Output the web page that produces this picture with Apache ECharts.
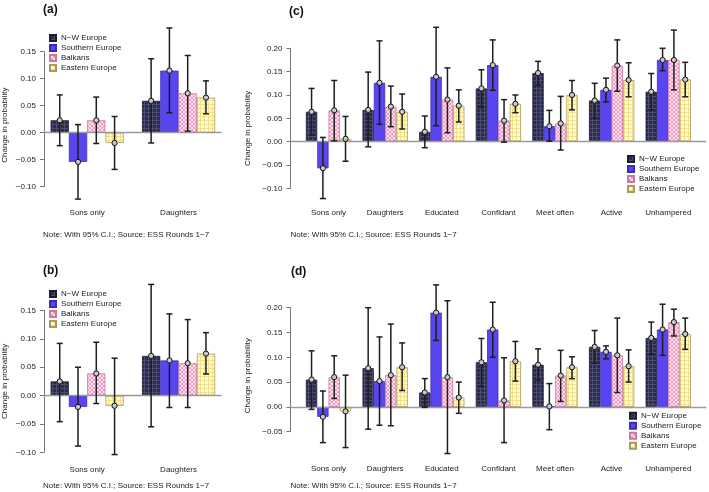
<!DOCTYPE html>
<html>
<head>
<meta charset="utf-8">
<script src="https://cdn.jsdelivr.net/npm/echarts@6/dist/echarts.min.js"></script>
<style>
  html, body { margin: 0; padding: 0; background: #fff; }
  #chart { width: 709px; height: 492px; }
</style>
</head>
<body>
<div id="chart"></div>
<script>
const regions = ['N\u2212W Europe', 'Southern Europe', 'Balkans', 'Eastern Europe'];
const catsShort = ['Sons only', 'Daughters'];
const catsLong = ['Sons only', 'Daughters', 'Educated', 'Confidant', 'Meet often', 'Active', 'Unhampered'];
const note = 'Note: With 95% C.I.; Source: ESS Rounds 1\u22127';

// rows: N-W, Southern, Balkans, Eastern
const aEst  = [[0.023, 0.059], [-0.054, 0.115], [0.023, 0.073], [-0.019, 0.065]];
const aLow  = [[-0.024, -0.019], [-0.123, 0.037], [-0.020, 0.003], [-0.068, 0.035]];
const aHigh = [[0.070, 0.137], [0.015, 0.194], [0.066, 0.143], [0.030, 0.096]];

const bEst  = [[0.025, 0.070], [-0.020, 0.062], [0.039, 0.057], [-0.018, 0.074]];
const bLow  = [[-0.046, -0.055], [-0.089, -0.021], [-0.014, -0.021], [-0.104, 0.038]];
const bHigh = [[0.092, 0.196], [0.050, 0.144], [0.094, 0.134], [0.066, 0.111]];

const cEst = [
  [0.064, 0.068, 0.021, 0.114, 0.147, 0.088, 0.107],
  [-0.057, 0.126, 0.139, 0.164, 0.033, 0.111, 0.175],
  [0.067, 0.075, 0.090, 0.045, 0.039, 0.163, 0.175],
  [0.006, 0.064, 0.077, 0.081, 0.100, 0.132, 0.133]
];
const cLow = [
  [0.014, -0.011, -0.013, 0.073, 0.121, 0.050, 0.068],
  [-0.122, 0.037, 0.034, 0.110, 0.001, 0.085, 0.152],
  [0.002, 0.032, 0.019, -0.001, -0.018, 0.108, 0.111],
  [-0.042, 0.027, 0.042, 0.062, 0.068, 0.096, 0.096]
];
const cHigh = [
  [0.114, 0.149, 0.055, 0.154, 0.172, 0.125, 0.146],
  [0.009, 0.216, 0.245, 0.218, 0.067, 0.136, 0.200],
  [0.131, 0.119, 0.158, 0.090, 0.097, 0.218, 0.239],
  [0.054, 0.102, 0.111, 0.100, 0.131, 0.169, 0.170]
];

const dEst = [
  [0.055, 0.078, 0.029, 0.090, 0.085, 0.121, 0.139],
  [-0.020, 0.052, 0.190, 0.156, 0.001, 0.111, 0.156],
  [0.060, 0.064, 0.060, 0.013, 0.063, 0.104, 0.171],
  [-0.009, 0.080, 0.019, 0.092, 0.080, 0.082, 0.147]
];
const dLow = [
  [-0.005, -0.045, -0.001, 0.041, 0.054, 0.088, 0.106],
  [-0.072, -0.037, 0.134, 0.100, -0.046, 0.097, 0.104],
  [0.017, -0.038, -0.094, -0.072, 0.011, 0.029, 0.143],
  [-0.082, 0.033, -0.013, 0.052, 0.057, 0.050, 0.116]
];
const dHigh = [
  [0.113, 0.200, 0.057, 0.138, 0.117, 0.154, 0.171],
  [0.032, 0.141, 0.246, 0.211, 0.047, 0.123, 0.207],
  [0.103, 0.167, 0.214, 0.099, 0.114, 0.179, 0.197],
  [0.064, 0.129, 0.050, 0.132, 0.101, 0.115, 0.179]
];

const FONT = '"Liberation Sans", Arial, Helvetica, sans-serif';

function pattern(bg, fg, kind) {
  const c = document.createElement('canvas');
  c.width = c.height = 4;
  const g = c.getContext('2d');
  g.fillStyle = bg;
  g.fillRect(0, 0, 4, 4);
  g.fillStyle = fg;
  if (kind === 'grid') {
    g.fillRect(0, 0, 4, 1);
    g.fillRect(0, 0, 1, 4);
  } else if (kind === 'cross') {
    for (let i = 0; i < 4; i++) {
      g.fillRect(i, i, 1, 1);
      g.fillRect(3 - i, i, 1, 1);
    }
  }
  return { image: c, repeat: 'repeat' };
}

const fills = [
  pattern('#2b2b4b', '#4d4d72', 'grid'),
  '#5a46f0',
  pattern('#f39ac6', '#fde2ef', 'cross'),
  pattern('#fffbd6', '#f1df8c', 'grid')
];
const borders = ['#1c1c33', '#3b2cc0', '#c8789f', '#a89a60'];

const panels = [
  { id: '(a)', cats: catsShort, est: aEst, low: aLow, high: aHigh, min: -0.10, max: 0.15,
    grid: { left: 43.3, top: 51.7, width: 178.4, height: 135 }, title: [43, 4], note: [43, 231],
    labelMargin: 22, nameShift: 12, legend: { left: 49, top: 33 } },
  { id: '(b)', cats: catsShort, est: bEst, low: bLow, high: bHigh, min: -0.10, max: 0.15,
    grid: { left: 43.3, top: 310.5, width: 178.4, height: 141.8 }, title: [43, 265], note: [43, 482],
    labelMargin: 13, nameShift: 0, legend: { left: 49, top: 289 } },
  { id: '(c)', cats: catsLong, est: cEst, low: cLow, high: cHigh, min: -0.10, max: 0.20,
    grid: { left: 290.5, top: 48.3, width: 415.8, height: 140 }, title: [289, 6], note: [290.5, 231],
    labelMargin: 20, nameShift: 20, legend: { left: 627, top: 154 } },
  { id: '(d)', cats: catsLong, est: dEst, low: dLow, high: dHigh, min: -0.05, max: 0.20,
    grid: { left: 290.5, top: 307.7, width: 415.8, height: 124 }, title: [291, 266], note: [290.5, 482],
    labelMargin: 33, nameShift: 12, legend: { left: 629, top: 410.7 } }
];

const grid = [], xAxis = [], yAxis = [], series = [], legend = [], title = [];

panels.forEach((p, pi) => {
  const n = p.cats.length;
  // R barplot: bars of width 1, one space before each group, 4% padding
  const pad = 0.04 * (5 * n - 1);
  grid.push(p.grid);
  xAxis.push({
    gridIndex: pi, type: 'value',
    min: (-2 - pad) / 5, max: (5 * n - 3 + pad) / 5,
    axisLine: { show: false, onZero: false }, axisTick: { show: false }, splitLine: { show: false },
    axisLabel: {
      customValues: p.cats.map((c, k) => k),
      formatter: v => p.cats[Math.round(v)],
      fontSize: 8, color: '#222', fontFamily: FONT, margin: p.labelMargin
    }
  });
  yAxis.push({
    gridIndex: pi, type: 'value', min: p.min, max: p.max, interval: 0.05,
    name: 'Change in probability', nameLocation: 'middle', nameGap: 35,
    nameTextStyle: { fontSize: 8, color: '#222', fontFamily: FONT, padding: [0, p.nameShift, 0, 0] },
    axisLine: { show: true, onZero: false, lineStyle: { color: '#777', width: 1 } },
    axisTick: { show: true, length: 4, lineStyle: { color: '#777' } },
    axisLabel: {
      fontSize: 8, color: '#222', fontFamily: FONT, margin: 8,
      formatter: v => (v < -1e-9 ? '\u2212' : '') + Math.abs(v).toFixed(2)
    },
    splitLine: { show: false }
  });
  regions.forEach((r, i) => {
    const s = {
      type: 'bar', name: r, xAxisIndex: pi, yAxisIndex: pi,
      barGap: '0%', barCategoryGap: '20%',
      itemStyle: { color: fills[i], borderColor: borders[i], borderWidth: 0.8 },
      data: p.cats.map((c, k) => [k, p.est[i][k]]),
      z: 2
    };
    if (i === 0) {
      s.markLine = {
        silent: true, symbol: ['none', 'none'], label: { show: false },
        lineStyle: { color: '#9a9a9a', width: 1.3, type: 'solid' },
        data: [{ yAxis: 0 }], z: 3
      };
    }
    series.push(s);
  });
  const ci = [];
  regions.forEach((r, i) => {
    p.cats.forEach((c, k) => ci.push([k, i, p.low[i][k], p.high[i][k], p.est[i][k]]));
  });
  series.push({
    type: 'custom', xAxisIndex: pi, yAxisIndex: pi, clip: false, z: 5, silent: true,
    encode: { x: 0, y: [2, 3, 4] },
    data: ci,
    renderItem: (params, api) => {
      const x = api.value(0) + (api.value(1) - 1.5) * 0.2;
      const lo = api.coord([x, api.value(2)]);
      const hi = api.coord([x, api.value(3)]);
      const pt = api.coord([x, api.value(4)]);
      const line = { stroke: '#1e1e1e', lineWidth: 1.5 };
      return {
        type: 'group',
        children: [
          { type: 'line', shape: { x1: lo[0], y1: lo[1], x2: hi[0], y2: hi[1] }, style: line },
          { type: 'line', shape: { x1: lo[0] - 3, y1: lo[1], x2: lo[0] + 3, y2: lo[1] }, style: line },
          { type: 'line', shape: { x1: hi[0] - 3, y1: hi[1], x2: hi[0] + 3, y2: hi[1] }, style: line },
          { type: 'circle', shape: { cx: pt[0], cy: pt[1], r: 2.6 }, style: { fill: '#c9c9c9', stroke: '#111', lineWidth: 1 } }
        ]
      };
    }
  });
  legend.push({
    orient: 'vertical', left: p.legend.left, top: p.legend.top, padding: 0,
    itemWidth: 6, itemHeight: 6, itemGap: 0, icon: 'rect',
    textStyle: { fontSize: 8, color: '#222', fontFamily: FONT, lineHeight: 10 },
    selectedMode: false, data: regions
  });
  title.push({
    text: p.id, left: p.title[0], top: p.title[1], padding: 0,
    textStyle: { fontSize: 12, fontWeight: 'bold', color: '#111', fontFamily: FONT }
  });
  title.push({
    text: note, left: p.note[0], top: p.note[1], padding: 0,
    textStyle: { fontSize: 8, fontWeight: 'normal', color: '#222', fontFamily: FONT }
  });
});

const chart = echarts.init(document.getElementById('chart'), null, { renderer: 'canvas' });
chart.setOption({
  animation: false,
  backgroundColor: '#fff',
  title, grid, xAxis, yAxis, legend, series
});
</script>
</body>
</html>
